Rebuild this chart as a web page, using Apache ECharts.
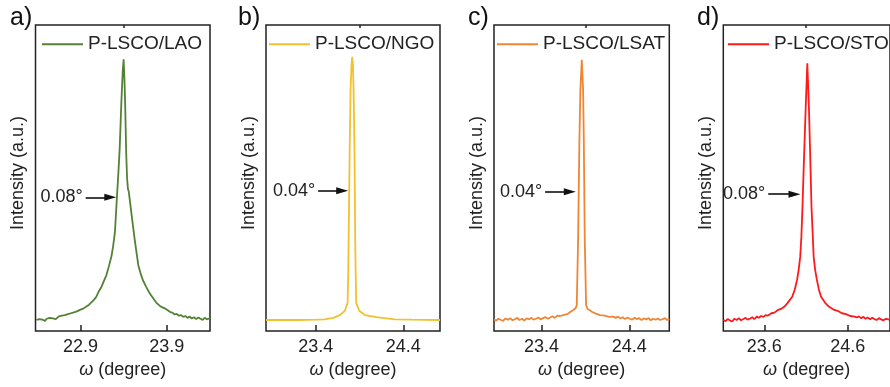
<!DOCTYPE html>
<html>
<head>
<meta charset="utf-8">
<script src="https://cdn.jsdelivr.net/npm/echarts@6/dist/echarts.min.js"></script>
<style>html,body{margin:0;padding:0;background:#fff}#c{width:890px;height:387px}</style>
</head>
<body>
<div id="c"></div>
<script>
// ---------- data ----------
const seriesNames = ['P-LSCO/LAO', 'P-LSCO/NGO', 'P-LSCO/LSAT', 'P-LSCO/STO'];
const panelLetters = ['a)', 'b)', 'c)', 'd)'];
const fwhmLabels = ['0.08°', '0.04°', '0.04°', '0.08°'];

const omegaA = [22.39,22.41,22.425,22.44,22.46,22.475,22.49,22.51,22.53,22.545,22.56,22.58,22.60,22.615,22.63,22.65,22.67,22.685,22.70,22.72,22.74,22.755,22.77,22.79,22.81,22.825,22.84,22.86,22.88,22.895,22.91,22.93,22.95,22.965,22.98,23.00,23.02,23.05,23.08,23.11,23.14,23.17,23.20,23.23,23.26,23.28,23.30,23.32,23.34,23.355,23.375,23.39,23.40,23.41,23.418,23.43,23.44,23.45,23.46,23.475,23.49,23.51,23.53,23.55,23.57,23.60,23.625,23.66,23.70,23.74,23.78,23.82,23.845,23.87,23.89,23.915,23.94,23.965,23.99,24.015,24.04,24.065,24.09,24.115,24.14,24.165,24.19,24.215,24.24,24.265,24.29,24.315,24.34,24.365,24.39,24.40];
const intensityA = [0.036,0.031,0.039,0.034,0.037,0.042,0.033,0.040,0.036,0.043,0.038,0.041,0.046,0.039,0.044,0.048,0.042,0.050,0.045,0.052,0.049,0.055,0.050,0.058,0.054,0.061,0.057,0.064,0.062,0.069,0.066,0.073,0.071,0.079,0.077,0.086,0.090,0.100,0.110,0.128,0.142,0.162,0.182,0.212,0.245,0.280,0.325,0.425,0.520,0.600,0.755,0.850,0.888,0.820,0.740,0.580,0.500,0.465,0.455,0.420,0.385,0.340,0.295,0.255,0.215,0.185,0.165,0.145,0.124,0.108,0.092,0.082,0.078,0.075,0.069,0.067,0.062,0.060,0.054,0.056,0.050,0.052,0.046,0.049,0.043,0.047,0.041,0.045,0.039,0.044,0.040,0.036,0.043,0.038,0.041,0.039];

const omegaB = [22.83,23.00,23.20,23.40,23.50,23.60,23.675,23.732,23.763,23.770,23.775,23.786,23.797,23.808,23.816,23.824,23.832,23.843,23.850,23.856,23.862,23.896,23.961,24.095,24.30,24.50,24.82];
const intensityB = [0.036,0.036,0.036,0.037,0.038,0.043,0.052,0.066,0.092,0.180,0.297,0.570,0.788,0.870,0.896,0.870,0.788,0.570,0.297,0.180,0.092,0.066,0.052,0.045,0.038,0.037,0.036];

const omegaC = [22.86,22.885,22.91,22.94,22.965,22.99,23.02,23.045,23.07,23.10,23.125,23.15,23.18,23.205,23.23,23.26,23.285,23.31,23.34,23.365,23.39,23.42,23.445,23.47,23.50,23.525,23.55,23.58,23.6125,23.66,23.70,23.726,23.76,23.79,23.802,23.817,23.832,23.843,23.859,23.874,23.882,23.893,23.908,23.925,23.95,23.973,24.02,24.067,24.12,24.17,24.218,24.245,24.27,24.30,24.325,24.35,24.38,24.405,24.43,24.46,24.485,24.51,24.54,24.565,24.59,24.62,24.645,24.67,24.70,24.725,24.75,24.78,24.805,24.83,24.855];
const intensityC = [0.038,0.034,0.040,0.036,0.033,0.041,0.037,0.042,0.035,0.039,0.043,0.036,0.040,0.034,0.041,0.038,0.043,0.037,0.040,0.044,0.038,0.042,0.046,0.040,0.044,0.048,0.043,0.050,0.049,0.053,0.056,0.062,0.068,0.075,0.085,0.297,0.624,0.788,0.886,0.788,0.624,0.297,0.085,0.072,0.068,0.063,0.057,0.052,0.050,0.046,0.047,0.043,0.047,0.041,0.045,0.039,0.044,0.040,0.037,0.043,0.039,0.042,0.036,0.041,0.038,0.042,0.035,0.040,0.037,0.041,0.036,0.039,0.042,0.036,0.039];

const omegaD = [23.11,23.135,23.16,23.19,23.215,23.24,23.27,23.295,23.32,23.35,23.375,23.40,23.43,23.455,23.48,23.51,23.535,23.56,23.59,23.615,23.64,23.685,23.72,23.76,23.80,23.839,23.88,23.935,23.965,23.993,24.012,24.031,24.045,24.058,24.077,24.097,24.116,24.135,24.151,24.166,24.18,24.192,24.21,24.231,24.255,24.281,24.33,24.377,24.43,24.48,24.531,24.58,24.63,24.685,24.71,24.735,24.76,24.79,24.815,24.84,24.87,24.895,24.92,24.95,24.975,25.00,25.03,25.06,25.10];
const intensityD = [0.036,0.032,0.039,0.034,0.031,0.040,0.036,0.042,0.035,0.039,0.043,0.037,0.041,0.045,0.039,0.047,0.043,0.049,0.046,0.052,0.050,0.058,0.060,0.068,0.072,0.079,0.092,0.112,0.135,0.167,0.200,0.243,0.310,0.406,0.570,0.733,0.875,0.733,0.570,0.406,0.320,0.243,0.200,0.167,0.135,0.112,0.092,0.079,0.070,0.066,0.058,0.055,0.049,0.047,0.044,0.048,0.042,0.046,0.040,0.044,0.038,0.043,0.039,0.036,0.042,0.038,0.035,0.040,0.037];

const majorTicks = [[22.9, 23.9], [23.4, 24.4], [23.4, 24.4], [23.6, 24.6]];
const minorTicks = [[23.4], [23.9], [23.9], [24.1]];
const xRanges = [[22.38, 24.40], [22.83, 24.82], [22.86, 24.855], [23.108, 25.108]];
// FWHM arrows: [start omega, end omega, intensity]
const arrowsData = [[22.961, 23.246, 0.437], [23.426, 23.701, 0.458], [23.442, 23.723, 0.455], [23.647, 23.962, 0.447]];

// ---------- layout / style ----------
const FONT = 'Liberation Sans, Arial, Helvetica, sans-serif';
const colors = ['#548235', '#f2c12e', '#ef8636', '#ff1a1a'];
const gridLayout = [
  {left: 35.5, right: 680},
  {left: 266, right: 450},
  {left: 494, right: 220.7},
  {left: 723.3, right: -6.7}
];
const legendLeft = [42, 269, 497, 728];
const letterX = [10, 238, 468, 697];

const omegas = [omegaA, omegaB, omegaC, omegaD];
const intensities = [intensityA, intensityB, intensityC, intensityD];

const option = {
  animation: false,
  backgroundColor: '#fff',
  grid: [], xAxis: [], yAxis: [], series: [], legend: [], graphic: []
};

for (let i = 0; i < 4; i++) {
  option.grid.push({
    left: gridLayout[i].left, right: gridLayout[i].right, top: 25, bottom: 56,
    show: true, borderColor: '#222', borderWidth: 1.5, containLabel: false
  });
  option.xAxis.push({
    type: 'value', gridIndex: i, min: xRanges[i][0], max: xRanges[i][1],
    axisLine: {show: false}, splitLine: {show: false},
    axisTick: {show: true, inside: true, length: 6, customValues: majorTicks[i], lineStyle: {color: '#222', width: 1.5}},
    axisLabel: {show: true, customValues: majorTicks[i], margin: 7, fontSize: 18, color: '#222', fontFamily: FONT,
      formatter: v => v.toFixed(1)},
    name: '{i|ω} (degree)', nameLocation: 'middle', nameGap: 29,
    nameTextStyle: {fontSize: 18, color: '#222', fontFamily: FONT,
      rich: {i: {fontSize: 18, fontStyle: 'italic', color: '#222', fontFamily: FONT}}}
  });
  option.xAxis.push({
    type: 'value', gridIndex: i, min: xRanges[i][0], max: xRanges[i][1],
    axisLine: {show: false}, splitLine: {show: false}, axisLabel: {show: false},
    axisTick: {show: true, inside: true, length: 3, customValues: minorTicks[i], lineStyle: {color: '#222', width: 1.5}}
  });
  option.yAxis.push({
    type: 'value', gridIndex: i, min: 0, max: 1,
    axisLine: {show: false}, axisTick: {show: false}, axisLabel: {show: false}, splitLine: {show: false},
    name: 'Intensity (a.u.)', nameLocation: 'middle', nameGap: 8,
    nameTextStyle: {fontSize: 18, color: '#222', fontFamily: FONT, padding: [0, 0, 0, 10]}
  });
  const pts = omegas[i].map((w, k) => [w, intensities[i][k]]);
  const ar = arrowsData[i];
  option.series.push({
    type: 'line', name: seriesNames[i], xAxisIndex: 2 * i, yAxisIndex: i,
    data: pts, symbol: 'none', smooth: false,
    lineStyle: {color: colors[i], width: 1.8}, itemStyle: {color: colors[i]},
    markLine: {
      silent: true, animation: false,
      symbol: ['none', 'triangle'],
      lineStyle: {color: '#111', width: 1.6, type: 'solid'},
      label: {show: true, position: 'start', formatter: fwhmLabels[i], fontSize: 18, color: '#222', fontFamily: FONT, distance: 3},
      data: [[{coord: [ar[0], ar[2]], symbol: 'none'}, {coord: [ar[1], ar[2]], symbol: 'triangle', symbolSize: [7, 12]}]]
    }
  });
  option.legend.push({
    data: [seriesNames[i]], left: legendLeft[i], top: 34.7, padding: 0,
    icon: 'rect', itemWidth: 41, itemHeight: 2, selectedMode: false,
    textStyle: {fontSize: 19, color: '#222', fontFamily: FONT}
  });
  option.graphic.push({
    type: 'text', left: letterX[i], top: 6,
    style: {text: panelLetters[i], fontSize: 25, fill: '#111', font: '25px ' + FONT}
  });
}

const chart = echarts.init(document.getElementById('c'), null, {renderer: 'canvas'});
chart.setOption(option);
</script>
</body>
</html>
